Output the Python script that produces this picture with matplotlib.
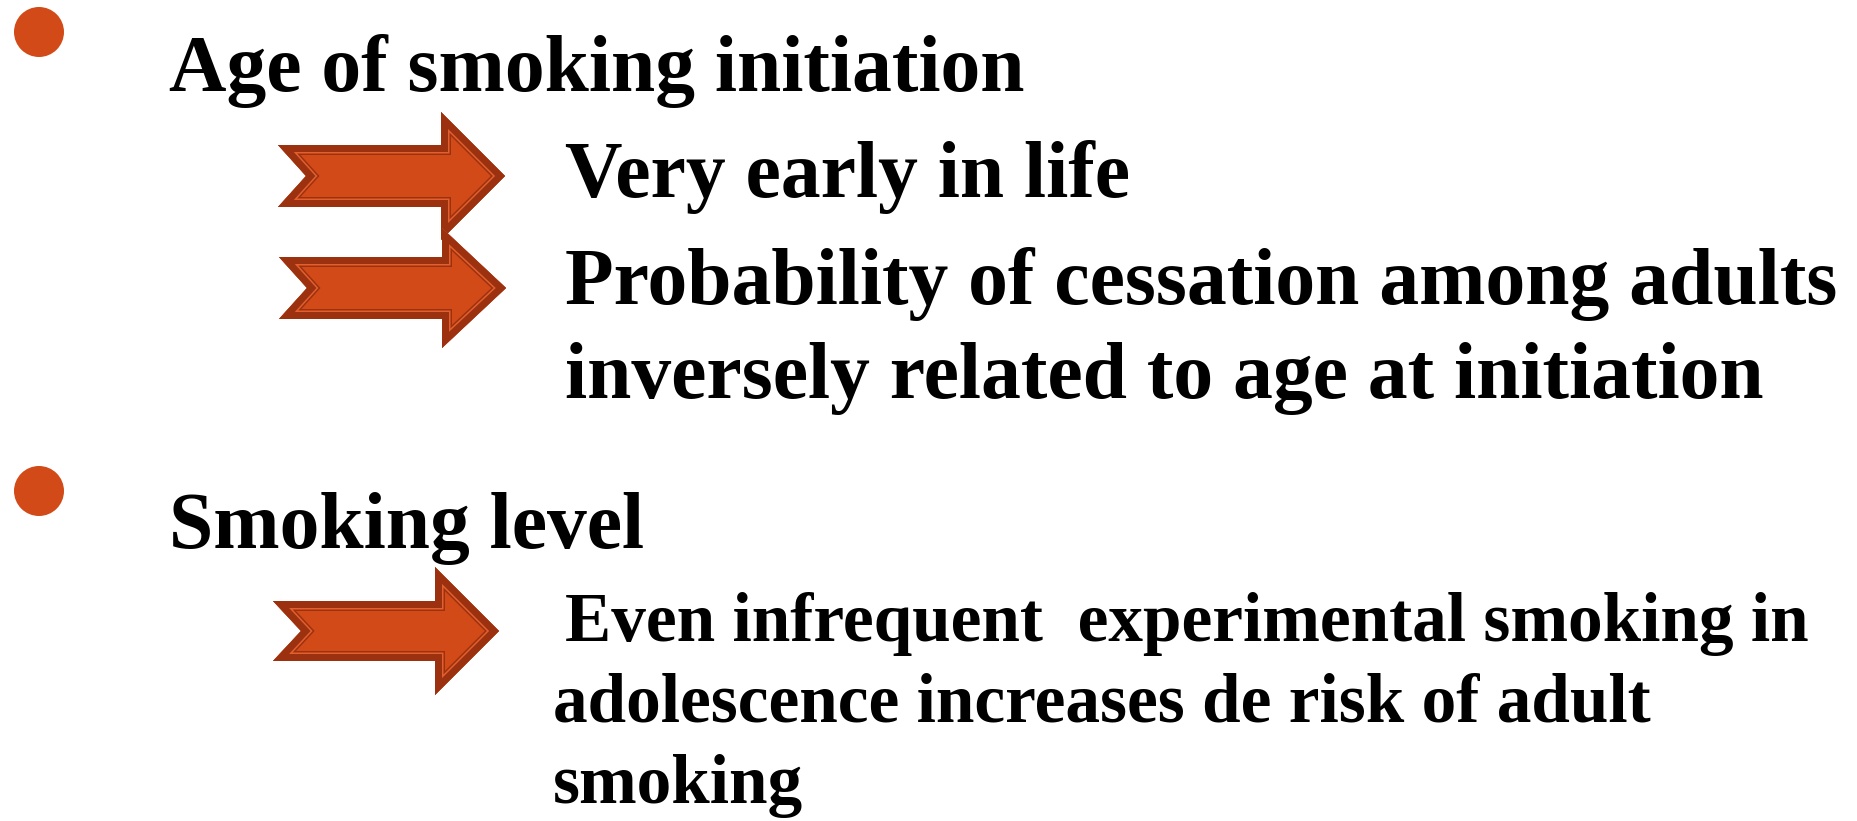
import matplotlib
matplotlib.use("Agg")
import matplotlib.pyplot as plt
from matplotlib.patches import Polygon, Circle

W, H = 1857, 821
DPI = 100

FILL = "#D24A17"
DARK = "#9C3110"
LIGHT = "#E2602F"

# slide text: (text, x, baseline y, target width in px)
headings = ["Age of smoking initiation", "Smoking level"]
heading_pos = [(169, 91), (169, 548)]

big_lines = ["Very early in life",
             "Probability of cessation among adults",
             "inversely related to age at initiation"]
big_pos = [(565, 197), (565, 304), (565, 398)]

small_lines = ["Even infrequent  experimental smoking in",
               "adolescence increases de risk of adult",
               "smoking"]
small_pos = [(565, 641), (553, 722), (553, 803)]

bullet_pos = [(39, 32), (39, 491)]

# arrows: tail x, head base x, tip x, mid y, body half height, head half height
arrows = [(278, 441, 505, 176, 31, 64),
          (279, 442, 506, 288, 31, 60),
          (273, 435, 499, 631, 30, 64)]

fig = plt.figure(figsize=(W / DPI, H / DPI), dpi=DPI)
ax = fig.add_axes([0, 0, 1, 1])
ax.set_xlim(0, W)
ax.set_ylim(H, 0)
ax.axis("off")

px = 72.0 / DPI  # points per pixel


def arrow_pts(x0, xh, xt, ym, bh, hh, notch=28):
    return [(x0, ym - bh), (xh, ym - bh), (xh, ym - hh), (xt, ym),
            (xh, ym + hh), (xh, ym + bh), (x0, ym + bh), (x0 + notch, ym)]


for a in arrows:
    pts = arrow_pts(*a)
    base = Polygon(pts, closed=True, facecolor=FILL, edgecolor="none")
    ax.add_patch(base)
    # banded border, drawn inside the shape by clipping to it
    for lw, col in [(20, DARK), (17, LIGHT), (14, DARK)]:
        edge = Polygon(pts, closed=True, facecolor="none", edgecolor=col,
                       linewidth=lw * px, joinstyle="miter")
        ax.add_patch(edge)
        edge.set_clip_path(base)

for cx, cy in bullet_pos:
    ax.add_patch(Circle((cx, cy), 25, facecolor=FILL, edgecolor="none"))

font = dict(family="Liberation Serif", weight="bold", color="black")


def fit_size(text, target):
    t = ax.text(0, 0, text, fontsize=40, **font)
    fig.canvas.draw()
    w = t.get_window_extent().width
    t.remove()
    return 40 * target / w


big = fit_size("Age of smoking initiation", 856)
small = fit_size("adolescence increases de risk of adult", 1096)

for txt, (x, y) in zip(headings, heading_pos):
    ax.text(x, y, txt, fontsize=big, va="baseline", ha="left", **font)
for txt, (x, y) in zip(big_lines, big_pos):
    ax.text(x, y, txt, fontsize=big, va="baseline", ha="left", **font)
for txt, (x, y) in zip(small_lines, small_pos):
    ax.text(x, y, txt, fontsize=small, va="baseline", ha="left", **font)

fig.savefig("out.png", dpi=DPI, facecolor="white")
